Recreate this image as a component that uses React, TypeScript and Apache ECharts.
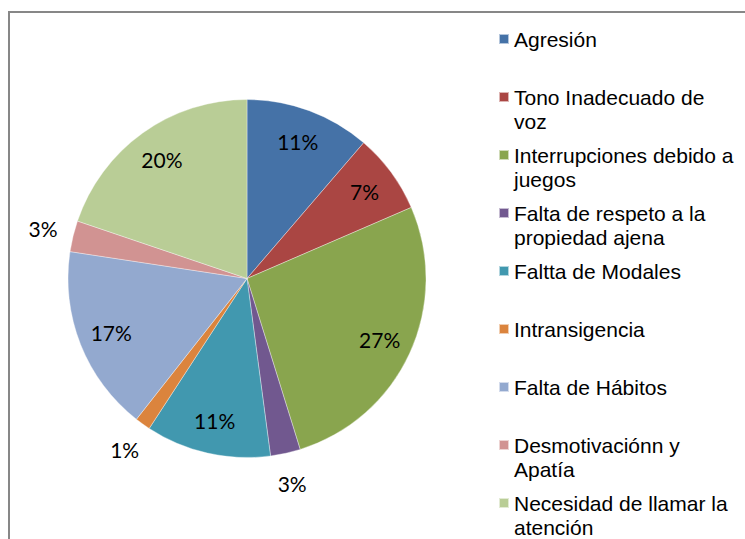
import React, { useEffect, useRef } from "react";
import * as echarts from "echarts";

const categories = [
  "Agresión",
  "Tono Inadecuado de voz",
  "Interrupciones debido a juegos",
  "Falta de respeto a la propiedad ajena",
  "Faltta de Modales",
  "Intransigencia",
  "Falta de Hábitos",
  "Desmotivaciónn y Apatía",
  "Necesidad de llamar la atención",
];

const legendLines = [
  ["Agresión"],
  ["Tono Inadecuado de", "voz"],
  ["Interrupciones debido a", "juegos"],
  ["Falta de respeto a la", "propiedad ajena"],
  ["Faltta de Modales"],
  ["Intransigencia"],
  ["Falta de Hábitos"],
  ["Desmotivaciónn y", "Apatía"],
  ["Necesidad de llamar la", "atención"],
];

const values = [11.3, 7.2, 26.7, 2.7, 11.3, 1.4, 16.8, 2.8, 19.8];

const colors = [
  "#4572A7",
  "#AA4643",
  "#89A54E",
  "#71588F",
  "#4198AF",
  "#DB843D",
  "#93A9CF",
  "#D19392",
  "#B9CD96",
];

const insideThreshold = 5;

export default function App() {
  const ref = useRef<HTMLDivElement>(null);

  useEffect(() => {
    if (!ref.current) return;
    const chart = echarts.init(ref.current, null, { renderer: "svg" });
    const data = categories.map((name, i) => ({ name, value: values[i] }));
    const center = [247, 278.5];
    const pct = (p: any) => Math.round(p.percent) + "%";
    const labelFont = {
      fontFamily: "Lato",
      fontSize: 21,
      color: "#000",
    };
    chart.setOption({
      animation: false,
      color: colors,
      graphic: [
        {
          type: "rect",
          shape: { x: 9, y: 12, width: 800, height: 600 },
          style: { fill: "none", stroke: "#878787", lineWidth: 2 },
          silent: true,
        },
      ],
      legend: {
        orient: "vertical",
        left: 498,
        top: 3,
        padding: 0,
        itemGap: -14,
        itemWidth: 10,
        itemHeight: 10,
        icon: "rect",
        data: categories,
        formatter: (name: string) => {
          const idx = categories.indexOf(name);
          const lines = legendLines[idx];
          return " \n" + lines[0] + "\n" + (lines[1] || " ");
        },
        textStyle: {
          fontFamily: "Liberation Sans",
          fontSize: 21,
          lineHeight: 24,
          color: "#000",
        },
        selectedMode: false,
      },
      series: [
        {
          type: "pie",
          center,
          radius: [0, 179],
          startAngle: 90,
          clockwise: true,
          data,
          label: { show: false },
          labelLine: { show: false },
          itemStyle: { borderColor: "rgba(255,255,255,0.6)", borderWidth: 0.6 },
          emphasis: { disabled: true },
        },
        {
          type: "pie",
          center,
          radius: [107, 179],
          startAngle: 90,
          clockwise: true,
          silent: true,
          data,
          itemStyle: { color: "rgba(0,0,0,0)" },
          label: {
            show: true,
            position: "inside",
            formatter: (p: any) => (p.percent >= insideThreshold ? pct(p) : ""),
            ...labelFont,
          },
          labelLine: { show: false },
          emphasis: { disabled: true },
        },
        {
          type: "pie",
          center,
          radius: [190, 224],
          startAngle: 90,
          clockwise: true,
          silent: true,
          data,
          itemStyle: { color: "rgba(0,0,0,0)" },
          label: {
            show: true,
            position: "inside",
            formatter: (p: any) => (p.percent < insideThreshold ? pct(p) : ""),
            ...labelFont,
          },
          labelLine: { show: false },
          emphasis: { disabled: true },
        },
      ],
    });
    return () => chart.dispose();
  }, []);

  return (
    <div
      ref={ref}
      style={{ position: "absolute", left: 0, top: 0, width: 745, height: 539, background: "#fff" }}
    />
  );
}
